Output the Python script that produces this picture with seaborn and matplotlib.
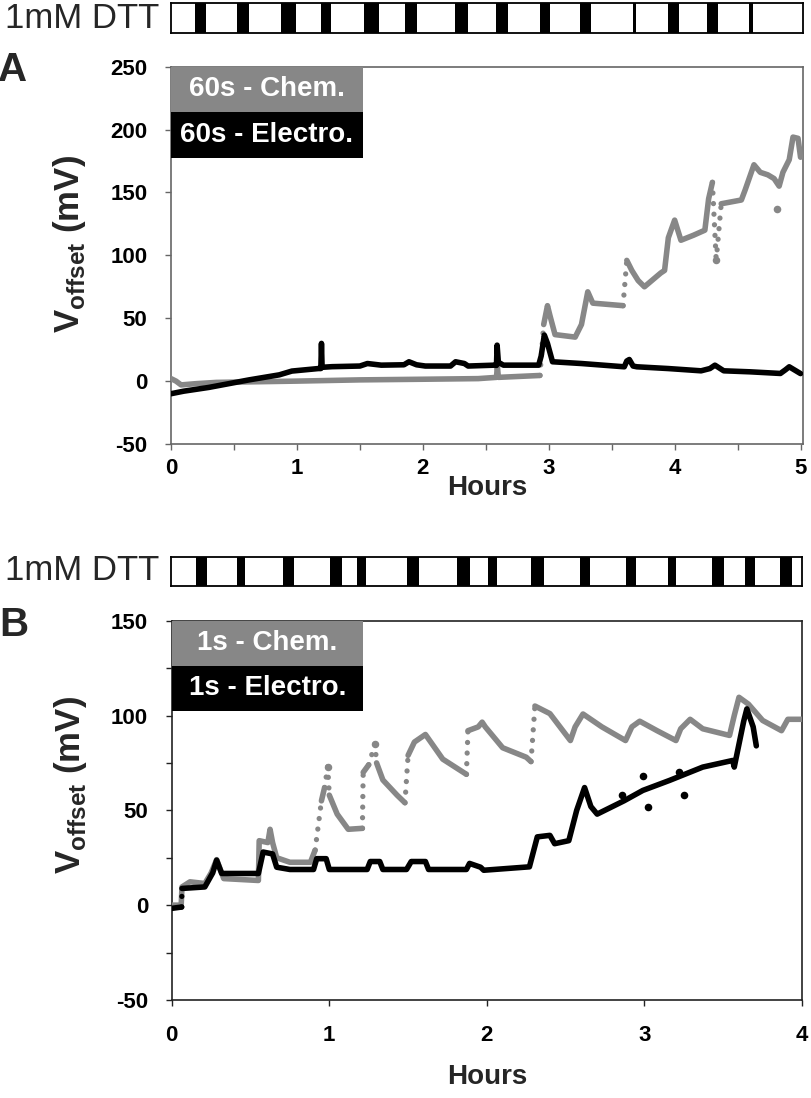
import matplotlib
matplotlib.use('Agg')
import matplotlib.pyplot as plt
import numpy as np
import pandas as pd
import seaborn as sns
from matplotlib.patches import Rectangle
from matplotlib.ticker import MultipleLocator

sns.set_style('white')
plt.rcParams['font.family'] = ['Liberation Sans', 'DejaVu Sans']
plt.rcParams['mathtext.fontset'] = 'custom'
plt.rcParams['mathtext.bf'] = 'Liberation Sans:bold'
plt.rcParams['mathtext.rm'] = 'Liberation Sans'
plt.rcParams['axes.unicode_minus'] = False

GRAY = '#878787'

# ---- panel A: 60 s pulses (hours, mV) ----
chem_a_h = [0, 0.04, 0.08, 0.2, 0.36, 0.99, 1.5, 2.0, 2.44, 2.585, 2.592, 2.60, 2.93,
            2.96, 2.99, 3.01, 3.05, 3.21, 3.26, 3.31, 3.35, 3.59,
            3.62, 3.66, 3.71, 3.76, 3.89, 3.92, 3.95, 4.0, 4.05, 4.15, 4.24, 4.27, 4.30,
            4.33, 4.37, 4.53, 4.56, 4.63, 4.68, 4.74, 4.79, 4.83, 4.86, 4.91, 4.94, 4.98, 5.0]
chem_a_mv = [2, 0, -3, -2, -1, 0, 1, 1.5, 2, 3, 12, 3, 4.5,
             45, 60, 52, 37, 35, 45, 71, 62, 60,
             96, 88, 80, 75, 86, 88, 114, 128, 112, 116, 120, 145, 158,
             96, 141, 144, 152, 172, 166, 164, 161, 155, 166, 176, 194, 193, 178]
chem_a_jumps = [2.93, 3.59, 4.30, 4.33]
chem_a_out_h = [4.81]
chem_a_out_mv = [137]

elec_a_h = [0, 0.1, 0.3, 0.62, 0.86, 0.96, 1.17, 1.19, 1.195, 1.20, 1.28, 1.5, 1.56, 1.67,
            1.85, 1.89, 1.95, 2.02, 2.22, 2.26, 2.33, 2.36, 2.57, 2.585, 2.59, 2.60, 2.64,
            2.92, 2.94, 2.965, 2.99, 3.03, 3.26, 3.6, 3.62, 3.64, 3.67, 3.7, 3.95, 4.21,
            4.28, 4.32, 4.39, 4.6, 4.84, 4.88, 4.91, 4.95, 5.0]
elec_a_mv = [-10, -8, -5, 1, 5, 8, 10, 10, 30, 11, 11.5, 12, 14, 12.7,
             13, 15.4, 13, 12, 12, 15.4, 14, 12, 12.7, 12.5, 28.6, 15, 12.7,
             12.7, 20, 36.6, 30, 15.4, 14, 11.4, 16, 17.2, 12, 11.4, 10, 8.2,
             10, 12.7, 8.2, 7.4, 6.1, 9, 11.4, 9, 6]

# DTT exposure windows (hours) for panel A
dtt_a_start = [0.19, 0.523, 0.871, 1.188, 1.53, 1.861, 2.257, 2.581, 2.934, 3.246, 3.668, 3.945, 4.254, 4.587]
dtt_a_end = [0.277, 0.62, 0.99, 1.267, 1.649, 1.953, 2.362, 2.679, 3.009, 3.338, 3.69, 4.038, 4.341, 4.624]

# ---- panel B: 1 s pulses (hours, mV) ----
chem_b_h = [0, 0.06, 0.065, 0.116, 0.21, 0.25, 0.285, 0.33, 0.55,
            0.555, 0.61, 0.624, 0.64, 0.666, 0.75, 0.88, 0.91,
            0.95, 0.97, 0.99, 1.0, 1.05, 1.12, 1.21,
            1.215, 1.25, 1.29, 1.30, 1.34, 1.43, 1.48,
            1.50, 1.54, 1.61, 1.72, 1.87,
            1.88, 1.945, 1.97, 1.99, 2.10, 2.25, 2.28,
            2.305, 2.40, 2.53, 2.56, 2.61, 2.73, 2.88, 2.92, 2.97, 3.08, 3.20, 3.23, 3.29,
            3.37, 3.54, 3.57, 3.60, 3.66, 3.75, 3.87, 3.91, 4.0]
chem_b_mv = [0, 0, 9.6, 12.3, 11.4, 17, 24, 14, 13,
             34, 33, 40, 33, 25, 22.6, 22.6, 29,
             55, 62, 73, 58, 48, 40, 40.5,
             70, 74, 85, 75, 66, 58, 54,
             79, 86, 90, 77, 69,
             92, 94, 96.5, 94, 83, 78, 75.7,
             105, 101, 86.8, 94, 100.8, 94, 86.8, 94, 97, 92, 86.8, 93, 98,
             93, 89.5, 100, 109.6, 106, 97.4, 92, 98, 98]
chem_b_jumps = [0.91, 0.97, 0.99, 1.21, 1.25, 1.29, 1.48, 1.87, 2.28]

elec_b_h = [0, 0.063, 0.065, 0.21, 0.26, 0.285, 0.317, 0.55, 0.58, 0.64, 0.666, 0.75, 0.9,
            0.92, 0.98, 1.0, 1.24, 1.26, 1.32, 1.34, 1.49, 1.52, 1.61, 1.63, 1.87, 1.89,
            1.96, 1.98, 2.27, 2.32, 2.40, 2.43, 2.52, 2.57, 2.62, 2.66, 2.70, 2.87, 2.99,
            3.16, 3.37, 3.56, 3.57, 3.63, 3.65, 3.69, 3.71]
elec_b_mv = [-1.7, -1, 8.8, 9.6, 17, 23.7, 16.7, 16.7, 28, 27, 20, 18.8, 18.8,
             24.5, 24.5, 18.8, 18.8, 23, 23, 18.8, 18.8, 23, 23, 18.8, 18.8, 22,
             20, 18.4, 20.2, 36, 36.8, 32.4, 34, 50, 62, 52, 48, 55, 60.5,
             65.8, 72.8, 76.3, 72.8, 97, 103.5, 94, 84]
elec_b_jumps = [0.063]
elec_b_out_h = [2.86, 2.99, 3.02, 3.22, 3.25]
elec_b_out_mv = [58, 68, 52, 70, 58]

dtt_b_start = [0.16, 0.42, 0.707, 1.011, 1.182, 1.493, 1.81, 2.007, 2.28, 2.591, 2.883, 3.149, 3.429, 3.639, 3.861]
dtt_b_end = [0.225, 0.47, 0.782, 1.087, 1.233, 1.569, 1.893, 2.064, 2.363, 2.655, 2.946, 3.2, 3.505, 3.702, 3.937]


def draw_trace(ax, h, mv, jumps, color, lw=4.0):
    df = pd.DataFrame({'h': h, 'mv': mv})
    is_jump = df['h'].isin(jumps)
    df['seg'] = is_jump.shift(fill_value=False).cumsum()
    for _, part in df.groupby('seg'):
        if len(part) > 1:
            sns.lineplot(data=part, x='h', y='mv', ax=ax, color=color, lw=lw,
                         sort=False, estimator=None, solid_capstyle='round',
                         solid_joinstyle='round', zorder=3)
        else:
            ax.plot(part['h'], part['mv'], 'o', color=color, ms=lw * 1.1, zorder=3)
    for i in np.where(is_jump)[0]:
        ax.plot(df['h'].iloc[i:i + 2], df['mv'].iloc[i:i + 2], color=color,
                lw=lw * 0.95, ls=(0, (0.01, 2.0)), dash_capstyle='round', zorder=3)


def dtt_bar(fig, rect, xmax, starts, ends):
    bx = fig.add_axes(rect)
    for s, e in zip(starts, ends):
        bx.axvspan(s, e, color='black', lw=0)
    bx.set_xlim(0, xmax)
    bx.set_xticks([])
    bx.set_yticks([])
    for sp in bx.spines.values():
        sp.set_visible(True)
        sp.set_color('black')
        sp.set_linewidth(1.3)
    return bx


def style_axes(ax, spine_color):
    for sp in ax.spines.values():
        sp.set_visible(True)
        sp.set_color(spine_color)
        sp.set_linewidth(1.2)
    ax.tick_params(which='both', direction='out', length=4, width=1, color=spine_color,
                   left=True, bottom=True, labelsize=16, labelcolor='black')
    for lab in ax.get_xticklabels() + ax.get_yticklabels():
        lab.set_fontweight('bold')


def legend_boxes(ax, top_label, bottom_label, x1, y_mid, y_bot):
    ax.add_patch(Rectangle((0, y_mid), x1, 1 - y_mid, transform=ax.transAxes,
                           color=GRAY, lw=0, zorder=5))
    ax.add_patch(Rectangle((0, y_bot), x1, y_mid - y_bot, transform=ax.transAxes,
                           color='black', lw=0, zorder=5))
    ax.text(x1 / 2, (1 + y_mid) / 2, top_label, transform=ax.transAxes, color='white',
            fontsize=20, fontweight='bold', ha='center', va='center', zorder=6)
    ax.text(x1 / 2, (y_mid + y_bot) / 2, bottom_label, transform=ax.transAxes, color='white',
            fontsize=20, fontweight='bold', ha='center', va='center', zorder=6)


fig = plt.figure(figsize=(8.12, 10.98), dpi=100)

# ---------- panel A ----------
dtt_bar(fig, [0.2106, 0.970, 0.7784, 0.0273], 5.02, dtt_a_start, dtt_a_end)
fig.text(5 / 812, 1 - 18 / 1098, '1mM DTT', fontsize=25, ha='left', va='center')
fig.text(13 / 812, 1 - 70 / 1098, 'A', fontsize=29, fontweight='bold', ha='center', va='center')

ax_a = fig.add_axes([0.2106, 0.5956, 0.7784, 0.3437])
draw_trace(ax_a, chem_a_h, chem_a_mv, chem_a_jumps, GRAY)
sns.scatterplot(x=chem_a_out_h, y=chem_a_out_mv, ax=ax_a, color=GRAY, s=30, lw=0, zorder=3)
draw_trace(ax_a, elec_a_h, elec_a_mv, [], 'black')
ax_a.set_xlim(0, 5.02)
ax_a.set_ylim(-50, 250)
ax_a.set_xticks([0, 1, 2, 3, 4, 5])
ax_a.xaxis.set_minor_locator(MultipleLocator(0.5))
ax_a.set_yticks(np.arange(-50, 251, 50))
style_axes(ax_a, '#666666')
ax_a.tick_params(axis='x', pad=6)
ax_a.tick_params(axis='y', pad=13)
ax_a.set_xlabel('Hours', fontsize=20, fontweight='bold', va='center')
ax_a.xaxis.set_label_coords(0.5, -0.117)
ax_a.set_ylabel(r'$\mathbf{V}_{\mathbf{offset}}$ (mV)', fontsize=25, fontweight='bold', va='center')
ax_a.yaxis.set_label_coords(-0.161, 0.53)
legend_boxes(ax_a, '60s - Chem.', '60s - Electro.', 0.3035, 0.879, 0.757)

# ---------- panel B ----------
dtt_bar(fig, [0.2106, 0.4663, 0.7771, 0.0264], 4.0, dtt_b_start, dtt_b_end)
fig.text(5 / 812, 1 - 571 / 1098, '1mM DTT', fontsize=25, ha='left', va='center')
fig.text(14 / 812, 1 - 625 / 1098, 'B', fontsize=29, fontweight='bold', ha='center', va='center')

ax_b = fig.add_axes([0.2115, 0.0893, 0.7762, 0.3454])
draw_trace(ax_b, chem_b_h, chem_b_mv, chem_b_jumps, GRAY)
draw_trace(ax_b, elec_b_h, elec_b_mv, elec_b_jumps, 'black')
sns.scatterplot(x=elec_b_out_h, y=elec_b_out_mv, ax=ax_b, color='black', s=30, lw=0, zorder=4)
ax_b.set_xlim(0, 4)
ax_b.set_ylim(-50, 150)
ax_b.set_xticks([0, 1, 2, 3, 4])
ax_b.set_yticks(np.arange(-50, 151, 50))
ax_b.yaxis.set_minor_locator(MultipleLocator(25))
style_axes(ax_b, '#222222')
ax_b.tick_params(axis='x', pad=14)
ax_b.tick_params(axis='y', pad=13)
ax_b.set_xlabel('Hours', fontsize=20, fontweight='bold', va='center')
ax_b.xaxis.set_label_coords(0.5, -0.203)
ax_b.set_ylabel(r'$\mathbf{V}_{\mathbf{offset}}$ (mV)', fontsize=25, fontweight='bold', va='center')
ax_b.yaxis.set_label_coords(-0.161, 0.567)
legend_boxes(ax_b, '1s - Chem.', '1s - Electro.', 0.304, 0.881, 0.762)

fig.savefig('out.png', dpi=100)
